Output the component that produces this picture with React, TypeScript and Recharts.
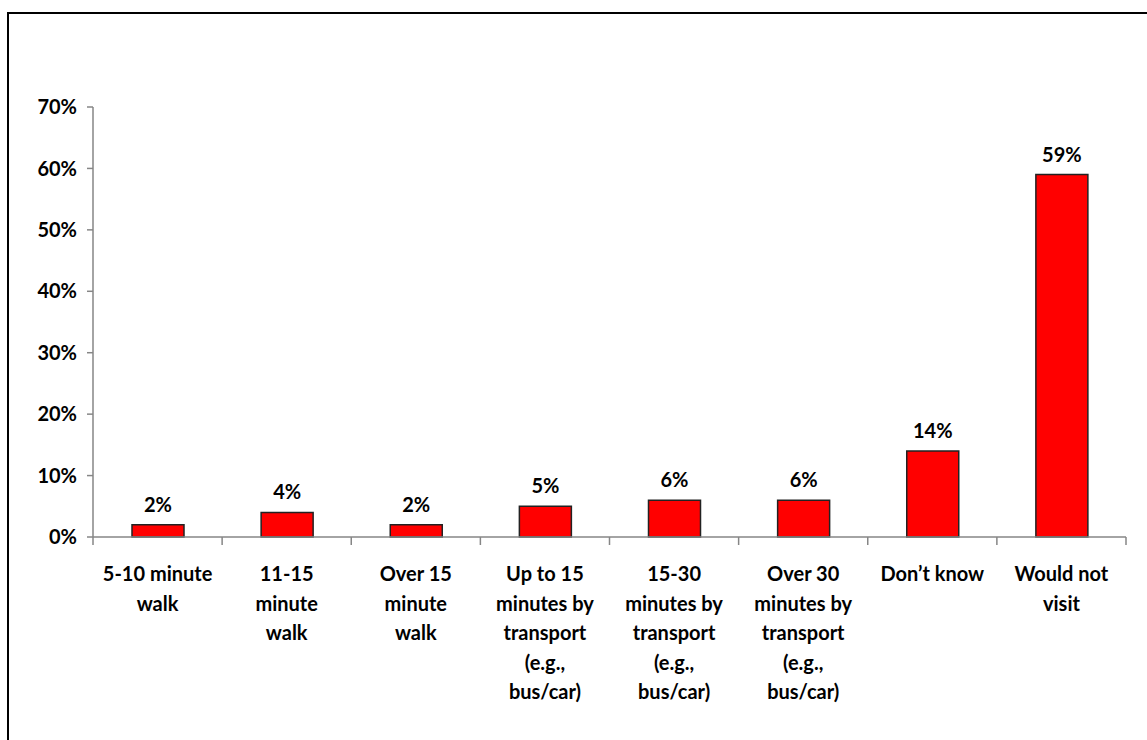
import React from "react";
import { BarChart, Bar, XAxis, YAxis, LabelList } from "recharts";

const categories = [
  "5-10 minute\nwalk",
  "11-15\nminute\nwalk",
  "Over 15\nminute\nwalk",
  "Up to 15\nminutes by\ntransport\n(e.g.,\nbus/car)",
  "15-30\nminutes by\ntransport\n(e.g.,\nbus/car)",
  "Over 30\nminutes by\ntransport\n(e.g.,\nbus/car)",
  "Don’t know",
  "Would not\nvisit",
];
const values = [2, 4, 2, 5, 6, 6, 14, 59];
const yTicks = [0, 10, 20, 30, 40, 50, 60, 70];

const data = categories.map((c, i) => ({ category: c, value: values[i] }));

const W = 1147;
const H = 740;
const MARGIN = { top: 107, right: 21, bottom: 173, left: 13 };
const Y_WIDTH = 80;
const X_HEIGHT = 30;
const AXIS_COLOR = "#868686";
const FONT = "Lato, 'Open Sans', 'DejaVu Sans', sans-serif";
const LINE_H = 29.5;
const FS = 20;

const plotW = W - MARGIN.left - MARGIN.right - Y_WIDTH;

const XTick = (props: any) => {
  const { x, y, payload, index } = props;
  const half =
    payload && payload.offset ? payload.offset : plotW / categories.length / 2;
  const lines = String(payload.value).split("\n");
  const axisY = y - 8;
  return (
    <g>
      {index === 0 && (
        <line x1={x - half} x2={x - half} y1={axisY} y2={axisY + 8} stroke={AXIS_COLOR} strokeWidth={1.5} />
      )}
      <line x1={x + half} x2={x + half} y1={axisY} y2={axisY + 8} stroke={AXIS_COLOR} strokeWidth={1.5} />
      <text
        x={x}
        y={y + 36}
        textAnchor="middle"
        fill="#000"
        fontFamily={FONT}
        fontWeight={700}
        fontSize={FS}
      >
        {lines.map((l, i) => (
          <tspan key={i} x={x} dy={i === 0 ? 0 : LINE_H}>
            {l}
          </tspan>
        ))}
      </text>
    </g>
  );
};

export default function App() {
  return (
    <div style={{ position: "relative", width: W, height: H, overflow: "hidden", background: "#fff" }}>
      <style>{`body{margin:0;overflow:hidden;}`}</style>
      <div
        style={{
          position: "absolute",
          left: 7,
          top: 12,
          width: W + 20,
          height: H + 20,
          borderLeft: "2px solid #000",
          borderTop: "2px solid #000",
          boxSizing: "border-box",
        }}
      />
      <div style={{ position: "absolute", left: 0, top: 0 }}>
        <BarChart width={W} height={H} data={data} margin={MARGIN}>
          <XAxis
            dataKey="category"
            height={X_HEIGHT}
            interval={0}
            tickLine={false}
            tickSize={8}
            tickMargin={0}
            axisLine={{ stroke: AXIS_COLOR, strokeWidth: 1.5 }}
            tick={<XTick />}
          />
          <YAxis
            width={Y_WIDTH}
            domain={[0, 70]}
            ticks={yTicks}
            interval={0}
            tickFormatter={(v: number) => `${v}%`}
            tickSize={6}
            tickMargin={10}
            axisLine={{ stroke: AXIS_COLOR, strokeWidth: 1.5 }}
            tickLine={{ stroke: AXIS_COLOR, strokeWidth: 1.5 }}
            tick={{ fill: "#000", fontFamily: FONT, fontWeight: 700, fontSize: FS }}
          />
          <Bar
            dataKey="value"
            barSize={52}
            fill="#FF0000"
            stroke="#222"
            strokeWidth={1.5}
            isAnimationActive={false}
          >
            <LabelList
              dataKey="value"
              position="top"
              offset={13}
              formatter={(v: any) => `${v}%`}
              style={{ fill: "#000", fontFamily: FONT, fontWeight: 700, fontSize: FS }}
            />
          </Bar>
        </BarChart>
      </div>
    </div>
  );
}
